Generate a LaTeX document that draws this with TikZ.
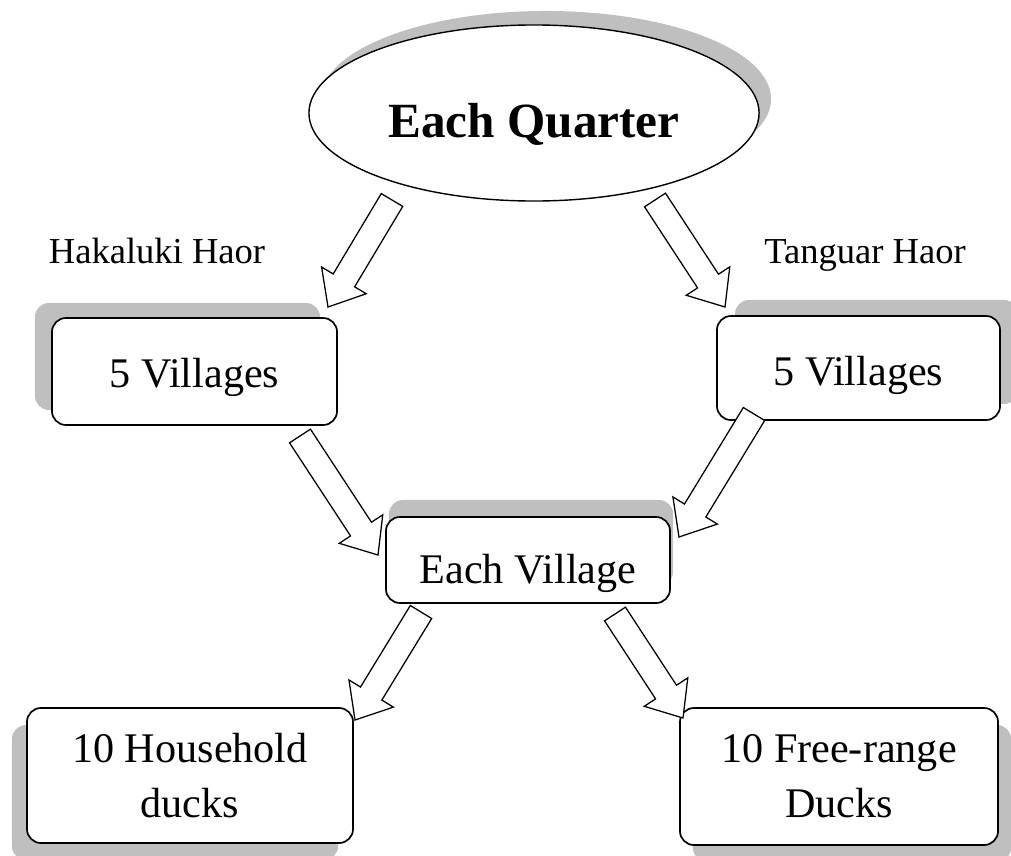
\documentclass[tikz,border=0pt]{standalone}
\usepackage{fontspec}
\setmainfont{Liberation Serif}
\usetikzlibrary{positioning,calc,shapes.geometric,shadows}

% hollow block arrow from tail (#1) to tip (#2)
\newcommand{\blockarr}[2]{%
  \coordinate (hb) at ($(#2)!0.775cm!(#1)$);
  \draw[barr] ($(#1)!0.3125cm!90:(#2)$) -- ($(hb)!0.3125cm!90:(#2)$)
    -- ($(hb)!0.65cm!90:(#2)$) -- (#2) -- ($(hb)!0.65cm!-90:(#2)$)
    -- ($(hb)!0.3125cm!-90:(#2)$) -- ($(#1)!0.3125cm!-90:(#2)$) -- cycle;}

\begin{document}
\begin{tikzpicture}[
  x=0.025cm, y=-0.025cm,
  oval/.style={draw, ellipse, fill=white, line width=1pt, inner sep=0pt,
               minimum width=11.25cm, minimum height=4.4cm,
               font=\fontsize{35}{42}\selectfont\bfseries},
  vbox/.style={draw, rounded corners=0.35cm, fill=white, line width=1.2pt,
               inner sep=0pt, align=center,
               font=\fontsize{30}{39}\selectfont},
  lab/.style={anchor=base, font=\fontsize{26}{30}\selectfont},
  barr/.style={draw, fill=white, line width=0.9pt, line join=miter},
]
\useasboundingbox (0,0) rectangle (1011,855);

%% Top
\node[oval, drop shadow={shadow xshift=0.3cm, shadow yshift=0.35cm,
      fill=black!25, opacity=1}, text height=1.2cm, text depth=0pt]
  (quarter) at (534,113) {Each Quarter};

%% Haor labels
\node[lab] (hlab) at (157,263) {Hakaluki Haor};
\node[lab] (tlab) at (865,263) {Tanguar Haor};

%% Village groups
\node[vbox, minimum width=7.125cm, minimum height=2.675cm,
      drop shadow={shadow xshift=-0.425cm, shadow yshift=0.375cm,
      fill=black!25, opacity=1}, text height=0.82cm, text depth=0pt]
  (hvill) at (194.5,371.5) {5 Villages};
\node[vbox, minimum width=7.075cm, minimum height=2.6cm,
      drop shadow={shadow xshift=0.45cm, shadow yshift=0.4cm,
      fill=black!25, opacity=1}, text height=0.85cm, text depth=0pt]
  (tvill) at (858.5,368) {5 Villages};

%% Each village
\node[vbox, minimum width=7.1cm, minimum height=2.15cm,
      drop shadow={shadow xshift=0.075cm, shadow yshift=0.425cm,
      fill=black!25, opacity=1}, text height=1.15cm, text depth=0pt]
  (evill) at (528,560) {Each Village};

%% Ducks
\node[vbox, minimum width=8.15cm, minimum height=3.375cm,
      drop shadow={shadow xshift=-0.375cm, shadow yshift=-0.425cm,
      fill=black!25, opacity=1}]
  (hduck) at (190,775.5) {10 Household\\ducks};
\node[vbox, minimum width=7.95cm, minimum height=3.425cm,
      drop shadow={shadow xshift=0.325cm, shadow yshift=-0.425cm,
      fill=black!25, opacity=1}]
  (fduck) at (839,776.5) {10 Free-range\\Ducks};

%% Arrow ends
\coordinate (qh) at (392,200);   \coordinate (hv) at (328,307);
\coordinate (qt) at (655,200);   \coordinate (tv) at (725,307);
\coordinate (hve) at (300,436);  \coordinate (evh) at (378,555);
\coordinate (tve) at (754,414);  \coordinate (evt) at (679,537);
\coordinate (evd) at (421,612);  \coordinate (hd) at (355,720);
\coordinate (evf) at (615,614);  \coordinate (fd) at (683,718);

\blockarr{qh}{hv}
\blockarr{qt}{tv}
\blockarr{hve}{evh}
\blockarr{tve}{evt}
\blockarr{evd}{hd}
\blockarr{evf}{fd}

\end{tikzpicture}
\end{document}
